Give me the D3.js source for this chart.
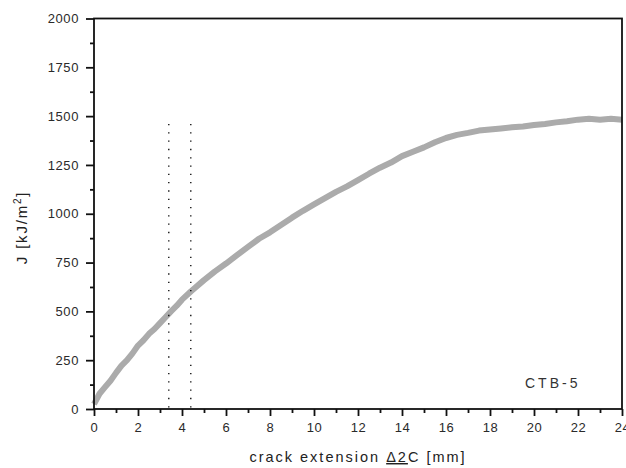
<!DOCTYPE html>
<html>
<head>
<meta charset="utf-8">
<script src="https://cdn.jsdelivr.net/npm/d3@7"></script>
<style>
  body { margin: 0; background: #fff; }
  text { font-family: Arial, "Liberation Sans", sans-serif; }
</style>
</head>
<body>
<div id="chart"></div>
<script>
// crack extension [mm] and J [kJ/m2]
const crackExt = [0, 0.25, 0.5, 0.75, 1.0, 1.25, 1.5, 1.75, 2.0, 2.25, 2.5, 2.75, 3.0, 3.25, 3.5, 3.75, 4.0, 4.4,
    5.0, 5.5, 6.0, 6.5, 7.0, 7.5, 8.0, 8.5, 9.0, 9.5, 10, 10.5, 11, 11.5, 12, 12.5, 13, 13.5, 14, 14.5,
    15, 15.5, 16, 16.5, 17, 17.5, 18, 18.5, 19, 19.5, 20, 20.5, 21, 21.5, 22, 22.5, 23, 23.5, 24];
const jValues = [25, 78, 112, 145, 185, 222, 250, 285, 325, 352, 385, 410, 440, 470, 500, 528, 560, 602,
    660, 705, 745, 788, 830, 872, 905, 942, 980, 1015, 1048, 1080, 1112, 1140, 1172, 1205, 1236, 1262, 1295, 1318,
    1340, 1366, 1388, 1404, 1414, 1426, 1432, 1437, 1443, 1447, 1455, 1460, 1468, 1474, 1482, 1486, 1482, 1486, 1482];

// dotted marker lines
const markerX = [3.4, 4.4];
const markerTop = 1460;

const xTicks = d3.range(0, 25, 2);
const yTicks = d3.range(0, 2001, 250);
const xMinor = d3.range(1, 24, 2);
const yMinor = d3.range(125, 2000, 250);

const data = crackExt.map((x, i) => ({ x: x, j: jValues[i] }));

const W = 626, H = 468;
const margin = { top: 18.5, right: 4, bottom: 59, left: 94 };
const width = W - margin.left - margin.right;
const height = H - margin.top - margin.bottom;

const svg = d3.select('#chart').append('svg')
    .attr('width', W)
    .attr('height', H)
    .append('g')
    .attr('transform', `translate(${margin.left}, ${margin.top})`);

const xScale = d3.scaleLinear().domain([0, 24]).range([0, width]);
const yScale = d3.scaleLinear().domain([0, 2000]).range([height, 0]);

// curve
const line = d3.line().x(d => xScale(d.x)).y(d => yScale(d.j));
svg.append('path')
    .datum(data)
    .attr('fill', 'none')
    .attr('stroke', '#ababab')
    .attr('stroke-width', 6)
    .attr('stroke-linejoin', 'round')
    .attr('d', line);

// dotted vertical lines
svg.selectAll('.marker')
    .data(markerX)
    .enter()
    .append('line')
    .attr('class', 'marker')
    .attr('x1', d => xScale(d))
    .attr('x2', d => xScale(d))
    .attr('y1', yScale(markerTop))
    .attr('y2', yScale(0))
    .attr('stroke', '#000')
    .attr('stroke-width', 1.3)
    .attr('stroke-dasharray', '1.3,7');

// frame
svg.append('rect')
    .attr('width', width)
    .attr('height', height)
    .attr('fill', 'none')
    .attr('stroke', '#111')
    .attr('stroke-width', 1.8);

// axes
const xAxis = svg.append('g')
    .attr('transform', `translate(0, ${height})`)
    .call(d3.axisBottom(xScale).tickValues(xTicks).tickSize(7).tickPadding(7));
xAxis.append('g')
    .call(d3.axisBottom(xScale).tickValues(xMinor).tickSize(4).tickFormat(''));

const yAxis = svg.append('g')
    .call(d3.axisLeft(yScale).tickValues(yTicks).tickSize(8).tickPadding(7).tickFormat(d3.format('d')));
yAxis.append('g')
    .call(d3.axisLeft(yScale).tickValues(yMinor).tickSize(4).tickFormat(''));

svg.selectAll('.domain').remove();
svg.selectAll('.tick line').attr('stroke', '#111').attr('stroke-width', 1.8);
svg.selectAll('.tick text')
    .attr('fill', '#2a2a2a')
    .style('font-size', '13px')
    .style('letter-spacing', '0.6px');

// labels
svg.append('text')
    .attr('x', width / 2)
    .attr('y', height + 53)
    .attr('text-anchor', 'middle')
    .attr('fill', '#222')
    .style('font-size', '14.5px')
    .style('letter-spacing', '2px')
    .html('crack extension <tspan text-decoration="underline">Δ2</tspan>C [mm]');

svg.append('text')
    .attr('transform', `translate(${-67}, ${yScale(930)}) rotate(-90)`)
    .attr('text-anchor', 'middle')
    .attr('fill', '#222')
    .style('font-size', '15px')
    .style('letter-spacing', '1.8px')
    .html('J [kJ/m<tspan dy="-6" font-size="10px">2</tspan><tspan dy="6">]</tspan>');

svg.append('text')
    .attr('x', xScale(20.85))
    .attr('y', yScale(105))
    .attr('text-anchor', 'middle')
    .attr('fill', '#333')
    .style('font-size', '14px')
    .style('letter-spacing', '3px')
    .text('CTB-5');
</script>
</body>
</html>
